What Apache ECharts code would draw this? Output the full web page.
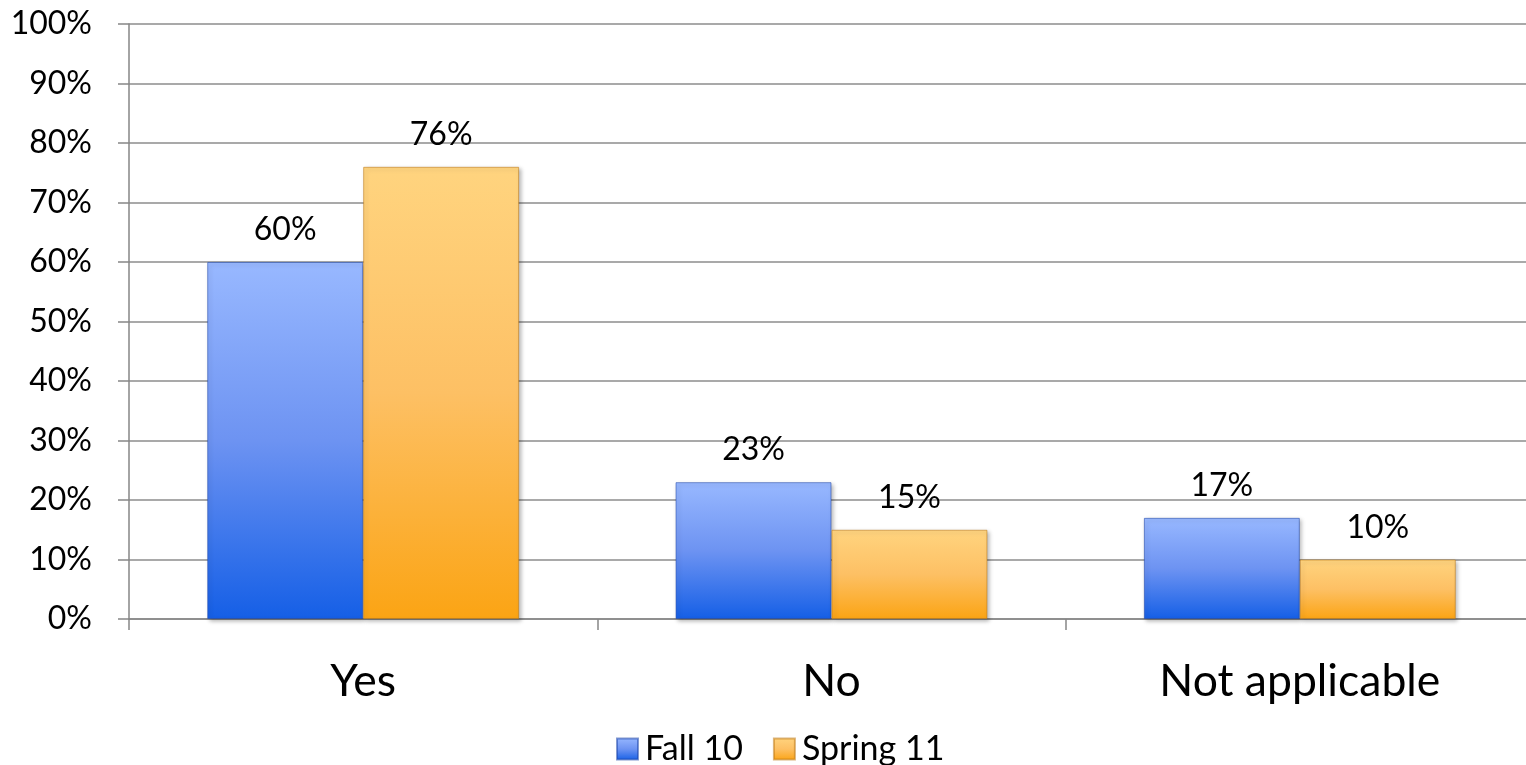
<!DOCTYPE html>
<html>
<head>
<meta charset="utf-8">
<style>
  html, body { margin: 0; padding: 0; background: #ffffff; }
  #chart { width: 1526px; height: 765px; }
</style>
<script src="https://cdn.jsdelivr.net/npm/echarts@6/dist/echarts.min.js"></script>
</head>
<body>
<div id="chart"></div>
<script>
// Survey responses, share of respondents per term
const categories = ['Yes', 'No', 'Not applicable'];
const fall10 = [60, 23, 17];
const spring11 = [76, 15, 10];
const seriesNames = ['Fall 10', 'Spring 11'];
const yTicks = { min: 0, max: 100, interval: 10 };

const FONT = 'Lato, "Open Sans", sans-serif';

function vGrad(top, mid, bottom) {
  return new echarts.graphic.LinearGradient(0, 0, 0, 1, [
    { offset: 0, color: top },
    { offset: 0.5, color: mid },
    { offset: 1, color: bottom }
  ]);
}

const blueFill = vGrad('#98b8ff', '#6d93f2', '#155fe6');
const orangeFill = vGrad('#ffd47f', '#fdc064', '#fba414');

function barSeries(name, data, fill, edge) {
  return {
    name: name,
    type: 'bar',
    data: data,
    barGap: '0%',
    barCategoryGap: '33.4%',
    itemStyle: {
      color: fill,
      borderColor: edge,
      borderWidth: 1,
      shadowColor: 'rgba(0,0,0,0.28)',
      shadowBlur: 4,
      shadowOffsetX: 2,
      shadowOffsetY: 2
    },
    label: {
      show: true,
      position: 'top',
      distance: 16,
      formatter: p => p.value + '%',
      color: '#000000',
      fontFamily: FONT,
      fontSize: 32
    }
  };
}

const chart = echarts.init(document.getElementById('chart'), null, { renderer: 'canvas' });

chart.setOption({
  animation: false,
  backgroundColor: '#ffffff',
  // the plot runs slightly past the right edge of the canvas
  grid: { left: 129, right: -8, top: 24, bottom: 146, outerBoundsMode: 'none' },
  legend: {
    top: 727,
    left: 611,
    itemWidth: 21,
    itemHeight: 21,
    itemGap: 30,
    icon: 'rect',
    textStyle: { fontFamily: FONT, fontSize: 34, color: '#000000', padding: [0, 0, 0, 2] },
    data: seriesNames
  },
  xAxis: {
    type: 'category',
    data: categories,
    axisLine: { lineStyle: { color: '#868686', width: 1.5 } },
    axisTick: { show: true, length: 11, lineStyle: { color: '#868686', width: 1.5 } },
    axisLabel: {
      margin: 40,
      color: '#000000',
      fontFamily: FONT,
      fontSize: 44.5
    }
  },
  yAxis: {
    type: 'value',
    min: yTicks.min,
    max: yTicks.max,
    interval: yTicks.interval,
    axisLine: { show: true, lineStyle: { color: '#868686', width: 1.5 } },
    axisTick: { show: true, length: 11, lineStyle: { color: '#868686', width: 1.5 } },
    splitLine: { show: true, lineStyle: { color: '#8c8c8c', width: 1.5 } },
    axisLabel: {
      margin: 37,
      formatter: v => v + '%',
      color: '#000000',
      fontFamily: FONT,
      fontSize: 32
    }
  },
  series: [
    barSeries(seriesNames[0], fall10, blueFill, 'rgba(30,70,170,0.55)'),
    barSeries(seriesNames[1], spring11, orangeFill, 'rgba(190,120,20,0.55)')
  ]
});
</script>
</body>
</html>
